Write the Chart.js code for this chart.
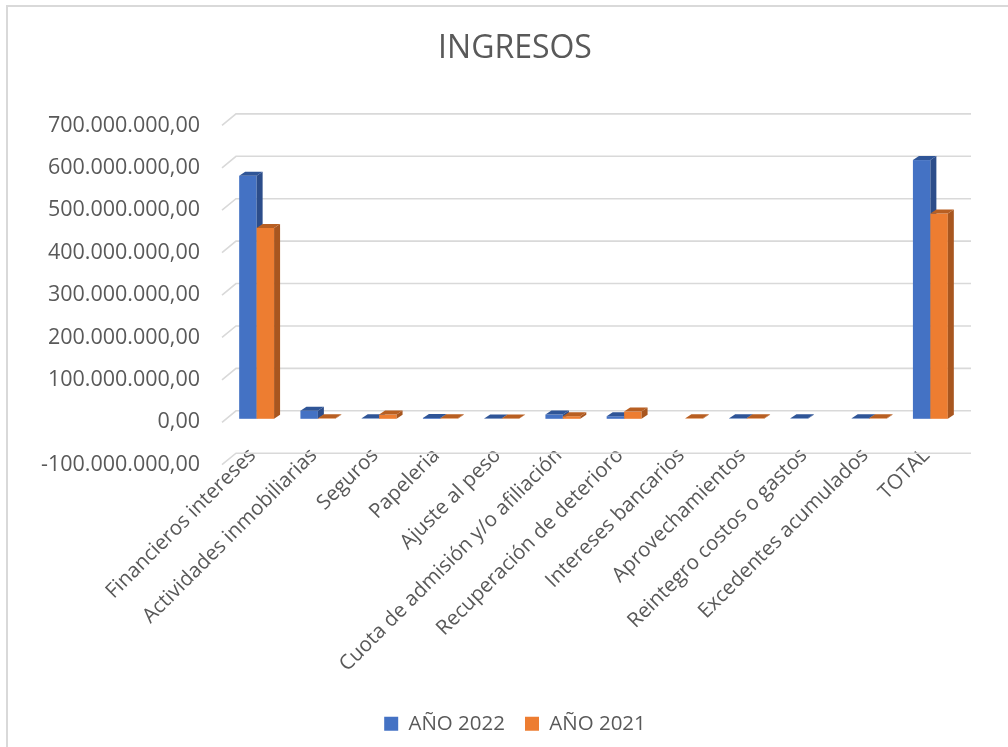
<!DOCTYPE html>
<html>
<head>
<meta charset="utf-8">
<script src="https://cdn.jsdelivr.net/npm/chart.js@4/dist/chart.umd.min.js"></script>
<style>
  body { margin: 0; background: #fff; }
  #wrap { position: relative; width: 1008px; height: 747px; }
  #frame { position: absolute; left: 6px; top: 5px; right: -4px; bottom: -4px;
           border-left: 2px solid #d9d9d9; border-top: 2px solid #d9d9d9; }
  canvas { position: absolute; left: 0; top: 0; }
</style>
</head>
<body>
<div id="wrap">
  <div id="frame"></div>
  <canvas id="chart1" width="1008" height="747"></canvas>
</div>
<script>
// categorias y valores
const categories = ['Financieros intereses', 'Actividades inmobiliarias', 'Seguros', 'Papeleria',
  'Ajuste al peso', 'Cuota de admisión y/o afiliación', 'Recuperación de deterioro',
  'Intereses bancarios', 'Aprovechamientos', 'Reintegro costos o gastos',
  'Excedentes acumulados', 'TOTAL'];
const anio2022 = [573000000, 19000000, 1000000, 2000000, 500000, 10000000, 6000000,
  null, 1000000, 1000000, 1000000, 610000000];
const anio2021 = [450000000, 1000000, 10000000, 1000000, 500000, 6000000, 17000000,
  1000000, 1000000, null, 1000000, 484000000];
const yTicks = [-100000000, 0, 100000000, 200000000, 300000000, 400000000, 500000000, 600000000, 700000000];

const textColor = '#595959';
const gridColor = '#d9d9d9';

// 700000000 -> 700.000.000,00
function fmt(v) {
  const neg = v < 0;
  const s = Math.abs(Math.round(v)).toString().replace(/\B(?=(\d{3})+(?!\d))/g, '.');
  return (neg ? '-' : '') + s + ',00';
}

// pseudo 3D like the excel chart
const WALL = { dx: 14, dy: -11.5 };
const BAR = { dx: 4, dy: -3.5, depthX: 6, depthY: -4 };

const threeD = {
  id: 'threeD',
  beforeDatasetsDraw(chart) {
    const ctx = chart.ctx;
    const y = chart.scales.y;
    const area = chart.chartArea;
    ctx.save();
    ctx.strokeStyle = gridColor;
    ctx.lineWidth = 1.6;
    for (const v of yTicks) {
      const py = y.getPixelForValue(v);
      ctx.beginPath();
      ctx.moveTo(area.left, py);
      ctx.lineTo(area.left + WALL.dx, py + WALL.dy);
      ctx.lineTo(area.right + WALL.dx, py + WALL.dy);
      ctx.stroke();
    }
    ctx.restore();
    // hide the flat bars chart.js draws, they are redrawn shifted below
    ctx.save();
    ctx.globalAlpha = 0;
  },
  afterDatasetsDraw(chart) {
    const ctx = chart.ctx;
    ctx.restore();
    ctx.save();
    ctx.translate(BAR.dx, BAR.dy);
    chart.data.datasets.forEach((ds, i) => {
      const meta = chart.getDatasetMeta(i);
      meta.data.forEach((bar, j) => {
        if (ds.data[j] === null) return;
        const p = bar.getProps(['x', 'y', 'base', 'width'], true);
        const x0 = p.x - p.width / 2, x1 = p.x + p.width / 2;
        const top = Math.min(p.y, p.base), bot = Math.max(p.y, p.base);
        ctx.fillStyle = ds.backgroundColor;
        ctx.fillRect(x0, top, x1 - x0, bot - top);
        ctx.fillStyle = ds.sideColor;
        // side
        ctx.beginPath();
        ctx.moveTo(x1, top);
        ctx.lineTo(x1 + BAR.depthX, top + BAR.depthY);
        ctx.lineTo(x1 + BAR.depthX, bot + BAR.depthY);
        ctx.lineTo(x1, bot);
        ctx.closePath();
        ctx.fill();
        // top
        ctx.fillStyle = ds.topColor;
        ctx.beginPath();
        ctx.moveTo(x0, top);
        ctx.lineTo(x1, top);
        ctx.lineTo(x1 + BAR.depthX, top + BAR.depthY);
        ctx.lineTo(x0 + BAR.depthX, top + BAR.depthY);
        ctx.closePath();
        ctx.fill();
      });
    });
    ctx.restore();
  }
};

const ingresos_data = {
  labels: categories,
  datasets: [{
    label: 'AÑO 2022',
    data: anio2022,
    backgroundColor: '#4472c4',
    sideColor: '#2c4d8a',
    topColor: '#2f5597',
    borderWidth: 0
  }, {
    label: 'AÑO 2021',
    data: anio2021,
    backgroundColor: '#ed7d31',
    sideColor: '#a8561f',
    topColor: '#b85f22',
    borderWidth: 0
  }]
};

const ingresos_config = {
  type: 'bar',
  data: ingresos_data,
  plugins: [threeD],
  options: {
    responsive: false,
    animation: false,
    categoryPercentage: 0.57,
    barPercentage: 1.0,
    layout: { padding: { top: 20, left: 22, right: 0, bottom: 3 } },
    plugins: {
      title: {
        display: true,
        text: 'INGRESOS',
        color: textColor,
        font: { family: 'Open Sans', size: 32, weight: 'normal' },
        padding: { top: 10, bottom: 57 }
      },
      legend: {
        position: 'bottom',
        labels: {
          color: textColor,
          font: { family: 'Open Sans', size: 20.5 },
          boxWidth: 14,
          boxHeight: 14,
          padding: 20
        }
      },
      tooltip: { enabled: false }
    },
    scales: {
      y: {
        // the floor (-100M) sits a bit under the plot box so the rotated labels
        // can start right below the front edge, like in excel
        min: -50000000,
        max: 700000000,
        afterBuildTicks: s => { s.ticks = yTicks.map(v => ({ value: v })); },
        afterFit: s => { s.width = 200; },
        grid: { display: false, drawTicks: false },
        border: { display: false },
        ticks: {
          color: textColor,
          font: { family: 'Open Sans', size: 21.5 },
          padding: 22,
          callback: v => fmt(v)
        }
      },
      y2: {
        position: 'right',
        afterFit: s => { s.width = 51; },
        grid: { display: false, drawTicks: false },
        border: { display: false },
        ticks: { display: false }
      },
      x: {
        afterFit: s => { s.height = 250; },
        grid: { display: false, drawTicks: false },
        border: { display: false },
        ticks: {
          color: textColor,
          font: { family: 'Open Sans', size: 20.5 },
          autoSkip: false,
          maxRotation: 45,
          minRotation: 45,
          padding: 0
        }
      }
    }
  }
};

const ingresos_chart = new Chart(document.getElementById('chart1'), ingresos_config);
</script>
</body>
</html>
